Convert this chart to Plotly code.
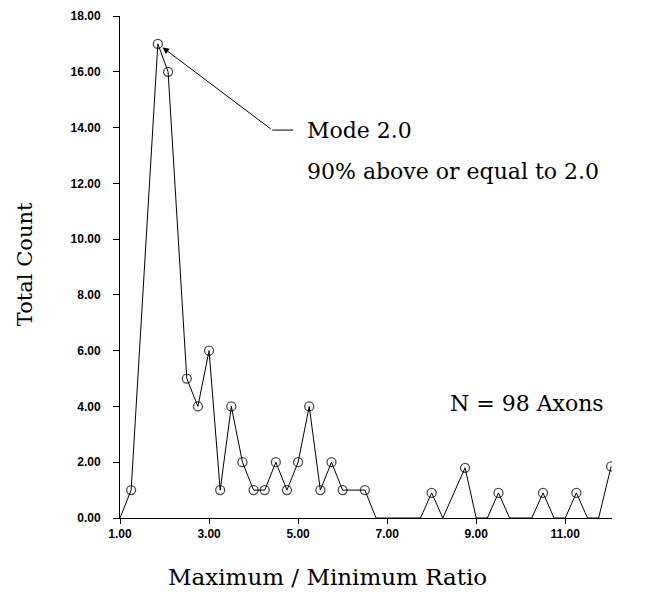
import plotly.graph_objects as go

# ---- data ----
ratio = [1.0, 1.25, 1.85, 2.08, 2.5, 2.75, 3.0, 3.25, 3.5, 3.75, 4.0, 4.25,
         4.5, 4.75, 5.0, 5.25, 5.5, 5.75, 6.0, 6.5, 6.75, 7.75, 8.0, 8.25,
         8.75, 9.0, 9.25, 9.5, 9.75, 10.25, 10.5, 10.75, 11.0, 11.25, 11.5,
         11.75, 12.03]
count = [0, 1, 17, 16, 5, 4, 6, 1, 4, 2, 1, 1,
         2, 1, 2, 4, 1, 2, 1, 1, 0, 0, 0.9, 0,
         1.8, 0, 0, 0.9, 0, 0, 0.9, 0, 0, 0.9, 0,
         0, 1.85]
x_ticks = [1, 3, 5, 7, 9, 11]
y_ticks = [0, 2, 4, 6, 8, 10, 12, 14, 16, 18]
mode_x, mode_y = 1.85, 17

SERIF = "DejaVu Serif"
marker_sizes = [9 if c > 0 else 0 for c in count]

fig = go.Figure()
fig.add_trace(go.Scatter(
    x=ratio, y=count, mode="lines+markers",
    line=dict(color="black", width=1),
    marker=dict(symbol="circle-open", size=marker_sizes,
                color="black", line=dict(width=1.3, color="black")),
    showlegend=False, hoverinfo="x+y",
))

# arrow pointing to the mode
fig.add_annotation(x=mode_x, y=mode_y, ax=4.42, ay=13.91,
                   xref="x", yref="y", axref="x", ayref="y",
                   text="", showarrow=True, arrowhead=2, arrowsize=1.3,
                   arrowwidth=1, arrowcolor="black", standoff=6)
fig.add_shape(type="line", x0=4.42, x1=4.89, y0=13.91, y1=13.91,
              xref="x", yref="y", line=dict(color="black", width=1))

fig.add_annotation(x=5.155, y=13.91, xref="x", yref="y", text="Mode 2.0",
                   showarrow=False, xanchor="left", yanchor="middle",
                   font=dict(family=SERIF, size=22, color="black"))
fig.add_annotation(x=5.155, y=12.41, xref="x", yref="y",
                   text="90% above or equal to 2.0",
                   showarrow=False, xanchor="left", yanchor="middle",
                   font=dict(family=SERIF, size=22, color="black"))
fig.add_annotation(x=8.36, y=4.1, xref="x", yref="y", text="N = 98 Axons",
                   showarrow=False, xanchor="left", yanchor="middle",
                   font=dict(family=SERIF, size=22, color="black"))

# x-axis title (placed left of the plot centre, as in the reference)
fig.add_annotation(x=0.4227, y=-0.1184, xref="paper", yref="paper",
                   text="Maximum / Minimum Ratio", showarrow=False,
                   xanchor="center", yanchor="middle",
                   font=dict(family=SERIF, size=23, color="black"))

fig.update_layout(
    width=648, height=592,
    margin=dict(l=111.7, r=43.5, t=8, b=81.5, autoexpand=False),
    paper_bgcolor="white", plot_bgcolor="white",
    xaxis=dict(range=[1, 12.05], tickvals=x_ticks, tickformat=".2f",
               showgrid=False, zeroline=False, showline=True,
               linecolor="black", linewidth=1, ticks="outside",
               ticklen=5, tickcolor="black",
               tickfont=dict(family="Liberation Sans", size=12,
                             color="black", weight="bold")),
    yaxis=dict(range=[0, 18], tickvals=y_ticks, tickformat=".2f",
               showgrid=False, zeroline=False, showline=True,
               linecolor="black", linewidth=1, ticks="outside",
               ticklen=6, tickcolor="black", ticklabelstandoff=10,
               tickfont=dict(family="Liberation Sans", size=12,
                             color="black", weight="bold")),
)

# y-axis title
fig.add_annotation(x=-0.1942, y=0.5065, xref="paper", yref="paper",
                   text="Total Count", showarrow=False, textangle=-90,
                   xanchor="center", yanchor="middle",
                   font=dict(family=SERIF, size=21, color="black"))

fig.write_html("out.html")
